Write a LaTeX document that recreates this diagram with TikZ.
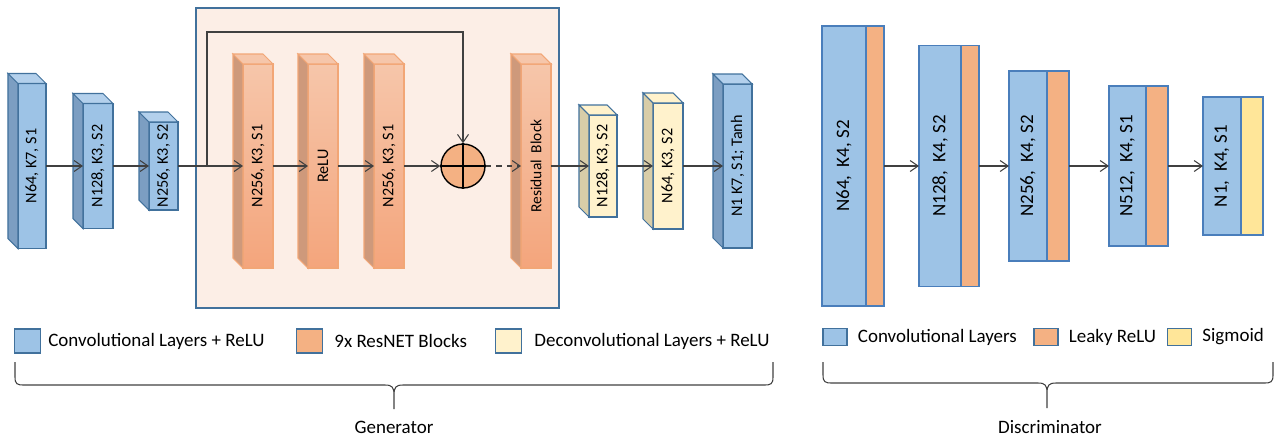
\documentclass[tikz,border=0pt]{standalone}
\usepackage{fontspec}
\setmainfont{Carlito}
\usetikzlibrary{positioning,arrows.meta}
\definecolor{convblue}{HTML}{9DC3E6}
\definecolor{blueside}{HTML}{7C9EC2}
\definecolor{bluetop}{HTML}{B3D0EC}
\definecolor{edgeblue}{HTML}{41719C}
\definecolor{resedge}{HTML}{F2A676}
\definecolor{restop}{HTML}{F6C6AA}
\definecolor{resbot}{HTML}{F4A57C}
\definecolor{resside}{HTML}{CE997B}
\definecolor{deconvyellow}{HTML}{FFF2CC}
\definecolor{deconvside}{HTML}{D8CDA8}
\definecolor{panelfill}{HTML}{FCEEE6}
\definecolor{leakyorange}{HTML}{F4B183}
\definecolor{sigyellow}{HTML}{FFE699}
\definecolor{discedge}{HTML}{4A7EBB}
\definecolor{arrowgray}{HTML}{404040}
\begin{document}
\begin{tikzpicture}[x=0.2mm, y=-0.2mm,
    genbox/.style={rectangle, draw=edgeblue, fill=convblue, line width=0.6pt, inner sep=0, outer sep=0, font=\fontsize{9.2}{11}\selectfont},
    resbox/.style={genbox, draw=resedge, top color=restop, bottom color=resbot, minimum width=6mm, minimum height=40.8mm},
    deconvbox/.style={genbox, fill=deconvyellow},
    discbox/.style={rectangle, draw=discedge, line width=0.9pt, inner sep=0, outer sep=0, fill=convblue, font=\fontsize{10.8}{13}\selectfont},
    panel/.style={rectangle, draw=edgeblue, line width=0.9pt, fill=panelfill, minimum width=72.6mm, minimum height=60mm},
    legbox/.style={rectangle, draw=edgeblue, line width=0.6pt, minimum width=5.2mm, minimum height=4.8mm},
    legtext/.style={inner sep=0, font=\fontsize{10.8}{13}\selectfont},
    uses/.style={-{Straight Barb[length=1.6mm,width=2.2mm]}, draw=arrowgray, line width=0.6pt},
    brace/.style={draw=arrowgray, line width=0.6pt}]

\useasboundingbox (0,0) rectangle (1278,439);

\node[panel] (panel) at (377.5,158) {};

\node[genbox, minimum width=5.6mm, minimum height=33mm] (g1) at (32,166) {\rotatebox{90}{N64, K7, S1}};
\node[genbox, minimum width=6mm, minimum height=25mm] (g2) at (98,166) {\rotatebox{90}{N128, K3, S2}};
\node[genbox, minimum width=5.8mm, minimum height=17.6mm] (g3) at (163.5,166) {\rotatebox{90}{N256, K3, S2}};
\node[resbox] (rA) at (258,166) {\rotatebox{90}{N256, K3, S1}};
\node[resbox] (rB) at (323,166) {\rotatebox{90}{ReLU}};
\node[resbox] (rC) at (389,166) {\rotatebox{90}{N256, K3, S1}};
\node[circle, draw, line width=0.8pt, fill=leakyorange, minimum size=8.8mm, inner sep=0] (sum) at (463,166) {};
\node[resbox, font=\fontsize{8.8}{11}\selectfont] (res) at (536,166) {\rotatebox{90}{Residual\ \ Block}};
\node[deconvbox, minimum width=5.6mm, minimum height=20.4mm] (d1) at (603,166) {\rotatebox{90}{N128, K3, S2}};
\node[deconvbox, minimum width=6mm, minimum height=25.2mm] (d2) at (668,166) {\rotatebox{90}{N64, K3, S2}};
\node[genbox, minimum width=5.8mm, minimum height=32.8mm] (g4) at (737.5,166) {\rotatebox{90}{N1 K7, S1; Tanh}};

\foreach \b/\s/\t/\e in {g1/blueside/bluetop/edgeblue, g2/blueside/bluetop/edgeblue, g3/blueside/bluetop/edgeblue,
    rA/resside/restop/resedge, rB/resside/restop/resedge, rC/resside/restop/resedge, res/resside/restop/resedge,
    d1/deconvside/deconvyellow/edgeblue, d2/deconvside/deconvyellow/edgeblue, g4/blueside/bluetop/edgeblue} {
  \filldraw[draw=\e, fill=\s, line width=0.6pt] (\b.north west) -- ++(-10,-10) -- ([shift={(-10,-10)}]\b.south west) -- (\b.south west) -- cycle;
  \filldraw[draw=\e, fill=\t, line width=0.6pt] (\b.north west) -- ++(-10,-10) -- ([shift={(-10,-10)}]\b.north east) -- (\b.north east) -- cycle;
}

\draw[line width=0.8pt] (sum.north) -- (sum.south) (sum.west) -- (sum.east);

\coordinate (split) at (207,166);
\coordinate (skip) at (207,32);

\draw[uses] (g1) -- (g2);
\draw[uses] (g2) -- (g3);
\draw[uses] (g3) -- (rA);
\draw[uses] (rA) -- (rB);
\draw[uses] (rB) -- (rC);
\draw[uses] (rC) -- (sum);
\draw[uses] (split) -- (skip) -| (sum);
\draw[uses, dashed] (sum) -- (res);
\draw[uses] (res) -- (d1);
\draw[uses] (d1) -- (d2);
\draw[uses] (d2) -- (g4);

\node[discbox, minimum width=8.8mm, minimum height=56mm] (b1) at (844,166) {\rotatebox{90}{N64,\ \ K4, S2}};
\node[discbox, fill=leakyorange, minimum width=3.6mm, minimum height=56mm, right=0pt of b1] (o1) {};
\node[discbox, minimum width=8.4mm, minimum height=48.2mm] (b2) at (940,166) {\rotatebox{90}{N128,\ \ K4, S2}};
\node[discbox, fill=leakyorange, minimum width=3.6mm, minimum height=48.2mm, right=0pt of b2] (o2) {};
\node[discbox, minimum width=7.6mm, minimum height=38mm] (b3) at (1028,166) {\rotatebox{90}{N256,\ \ K4, S2}};
\node[discbox, fill=leakyorange, minimum width=4.4mm, minimum height=38mm, right=0pt of b3] (o3) {};
\node[discbox, minimum width=7.4mm, minimum height=32mm] (b4) at (1127.5,166) {\rotatebox{90}{N512,\ \ K4, S1}};
\node[discbox, fill=leakyorange, minimum width=4.4mm, minimum height=32mm, right=0pt of b4] (o4) {};
\node[discbox, minimum width=7.6mm, minimum height=27.6mm] (b5) at (1222,166) {\rotatebox{90}{N1,\ \ K4, S1}};
\node[discbox, fill=sigyellow, minimum width=4.4mm, minimum height=27.6mm, right=0pt of b5] (o5) {};

\draw[uses] (o1) -- (b2);
\draw[uses] (o2) -- (b3);
\draw[uses] (o3) -- (b4);
\draw[uses] (o4) -- (b5);

\node[legbox, fill=convblue] (lg1) at (27.5,341) {};
\node[legtext, right=1.4mm of lg1] (lt1) {Convolutional Layers + ReLU};
\node[legbox, fill=leakyorange] (lg2) at (309.5,341) {};
\node[legtext, right=2.2mm of lg2] (lt2) {9x ResNET Blocks};
\node[legbox, fill=deconvyellow] (lg3) at (508.5,341) {};
\node[legtext, right=2.4mm of lg3] (lt3) {Deconvolutional Layers + ReLU};

\node[legbox, fill=convblue, minimum width=4.8mm, minimum height=3.4mm] (ld1) at (835,337) {};
\node[legtext, right=2mm of ld1] (ldt1) {Convolutional Layers};
\node[legbox, fill=leakyorange, minimum width=4.8mm, minimum height=3.4mm] (ld2) at (1046,337) {};
\node[legtext, right=2mm of ld2] (ldt2) {Leaky ReLU};
\node[legbox, fill=sigyellow, minimum width=4.8mm, minimum height=3.4mm] (ld3) at (1179.5,337) {};
\node[legtext, right=2mm of ld3] (ldt3) {Sigmoid};

\draw[brace] (15,362) -- (15,377) .. controls (15,384) and (17,385) .. (24,385) -- (385,385)
  .. controls (392,385) and (394,387) .. (394,395) -- (394,409)
  (394,395) .. controls (394,387) and (396,385) .. (403,385) -- (764,385)
  .. controls (771,385) and (773,384) .. (773,377) -- (773,362);
\draw[brace] (823,362) -- (823,375) .. controls (823,382) and (825,383) .. (832,383) -- (1038,383)
  .. controls (1045,383) and (1047,385) .. (1047,393) -- (1047,408)
  (1047,393) .. controls (1047,385) and (1049,383) .. (1056,383) -- (1264,383)
  .. controls (1271,383) and (1273,382) .. (1273,375) -- (1273,362);

\node[legtext] (gen) at (394,427) {Generator};
\node[legtext] (dis) at (1050,427) {Discriminator};
\end{tikzpicture}
\end{document}
